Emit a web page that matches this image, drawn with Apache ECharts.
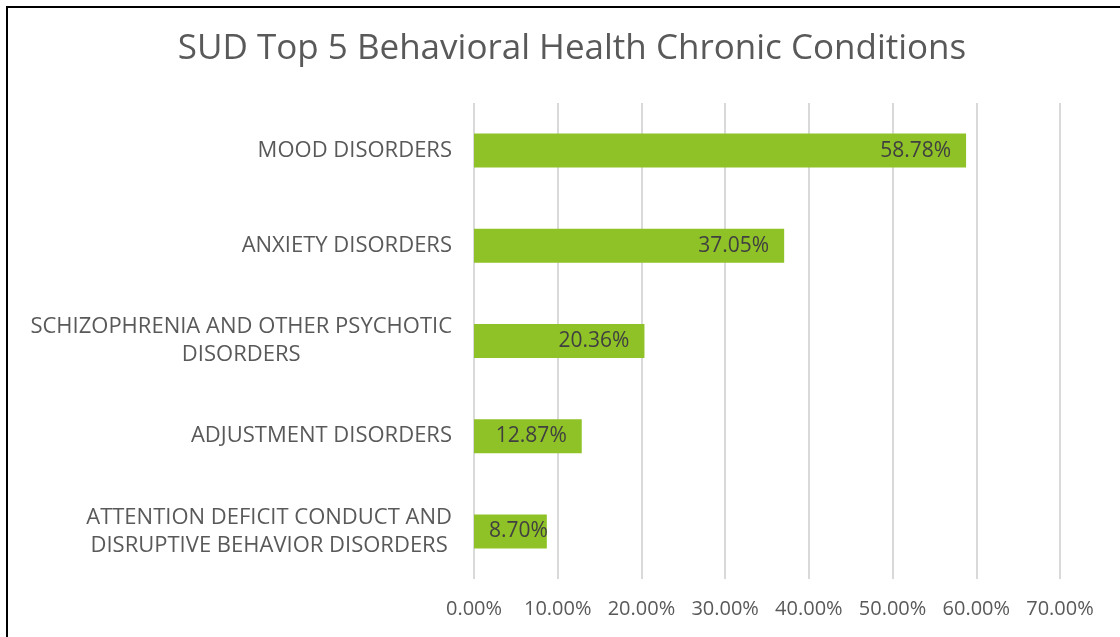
<!DOCTYPE html>
<html>
<head>
<meta charset="utf-8">
<script src="https://cdn.jsdelivr.net/npm/echarts@6/dist/echarts.min.js"></script>
<style>
  html, body { margin: 0; padding: 0; background: #ffffff; }
  #frame {
    position: absolute; left: 6px; top: 6px; width: 1200px; height: 700px;
    border-left: 2px solid #000000; border-top: 2px solid #000000;
  }
  #chart { position: absolute; left: 0; top: 0; width: 1120px; height: 637px; }
</style>
</head>
<body>
<div id="frame"></div>
<div id="chart"></div>
<script>
// Top five behavioral health chronic conditions among SUD members (% of members)
const categories = [
  'MOOD DISORDERS',
  'ANXIETY DISORDERS',
  'SCHIZOPHRENIA AND OTHER PSYCHOTIC\nDISORDERS',
  'ADJUSTMENT DISORDERS',
  'ATTENTION DEFICIT CONDUCT AND\nDISRUPTIVE BEHAVIOR DISORDERS'
];
const shares = [58.78, 37.05, 20.36, 12.87, 8.70];
const xTickMax = 70;
const xTickStep = 10;

const labelFont = "'Open Sans', 'Noto Sans', sans-serif";

// Short bars cannot hold the value label at their end, so it sits at the start instead
const barData = shares.map(v => v < 10
  ? { value: v, label: { position: 'insideLeft', distance: 15 } }
  : v);

const chart = echarts.init(document.getElementById('chart'), null, { renderer: 'canvas' });
chart.setOption({
  backgroundColor: 'transparent',
  animation: false,
  title: {
    text: 'SUD Top 5 Behavioral Health Chronic Conditions',
    left: 567,
    textAlign: 'center',
    top: 27,
    textStyle: {
      fontFamily: "'Open Sans', sans-serif",
      fontSize: 35,
      fontWeight: 'normal',
      color: '#595959'
    }
  },
  grid: { left: 474, right: 60, top: 103, bottom: 58, containLabel: false },
  xAxis: {
    type: 'value',
    min: 0,
    max: xTickMax,
    interval: xTickStep,
    axisLine: { show: false },
    axisTick: { show: false },
    splitLine: { show: true, lineStyle: { color: '#d9d9d9', width: 2 } },
    axisLabel: {
      margin: 20,
      fontFamily: labelFont,
      fontSize: 20,
      color: '#595959',
      formatter: v => v.toFixed(2) + '%'
    }
  },
  yAxis: {
    type: 'category',
    inverse: true,
    data: categories,
    axisLine: { show: false },
    axisTick: { show: false },
    axisLabel: {
      margin: 22,
      align: 'right',
      formatter: v => v.split('\n').map(l => '{c|' + l + '}').join('\n'),
      rich: {
        c: {
          align: 'center',
          fontFamily: labelFont,
          fontSize: 22,
          lineHeight: 28,
          color: '#595959'
        }
      }
    }
  },
  series: [{
    type: 'bar',
    data: barData,
    barWidth: 34,
    itemStyle: { color: '#8fc226' },
    label: {
      show: true,
      position: 'insideRight',
      distance: 15,
      fontFamily: labelFont,
      fontSize: 21,
      color: '#404040',
      formatter: p => p.value.toFixed(2) + '%'
    }
  }]
});
</script>
</body>
</html>
